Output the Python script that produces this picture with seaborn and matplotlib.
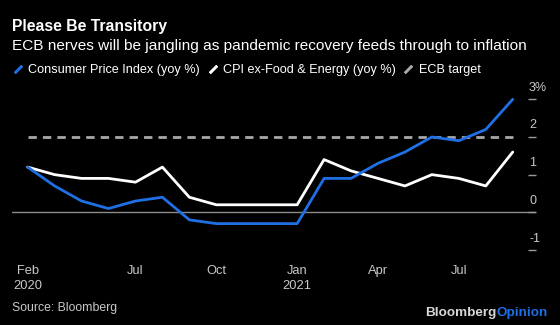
import numpy as np
import pandas as pd
import matplotlib
matplotlib.use("Agg")
import matplotlib.pyplot as plt
import matplotlib.transforms as mtransforms
from matplotlib.lines import Line2D
import seaborn as sns

months = ["2020-02", "2020-03", "2020-04", "2020-05", "2020-06", "2020-07", "2020-08",
          "2020-09", "2020-10", "2020-11", "2020-12", "2021-01", "2021-02", "2021-03",
          "2021-04", "2021-05", "2021-06", "2021-07", "2021-08"]
cpi = [1.2, 0.7, 0.3, 0.1, 0.3, 0.4, -0.2, -0.3, -0.3, -0.3, -0.3, 0.9, 0.9, 1.3,
       1.6, 2.0, 1.9, 2.2, 3.0]
core = [1.2, 1.0, 0.9, 0.9, 0.8, 1.2, 0.4, 0.2, 0.2, 0.2, 0.2, 1.4, 1.1, 0.9,
        0.7, 1.0, 0.9, 0.7, 1.6]
target = [2.0] * len(months)
series_names = ["Consumer Price Index (yoy %)", "CPI ex-Food & Energy (yoy %)", "ECB target"]
xtick_pos = [0, 4, 7, 10, 13, 16]
xtick_labels = ["Feb\n2020", "Jul", "Oct", "Jan\n2021", "Apr", "Jul"]
ytick_vals = [-1, 0, 1, 2, 3]
ytick_labels = ["-1", "0", "1", "2", "3%"]

BLUE = "#1f6fe5"
GREY_TXT = "#c8c8c8"

sns.set_theme(style="dark")
plt.rcParams["font.family"] = ["Liberation Sans", "DejaVu Sans"]

W, H = 560, 325
fig = plt.figure(figsize=(W / 100, H / 100), dpi=100, facecolor="black")

# axes placement in pixels
ax_l, ax_r, ax_t, ax_b = 12, 536, 92, 250
ax = fig.add_axes([ax_l / W, 1 - ax_b / H, (ax_r - ax_l) / W, (ax_b - ax_t) / H])
ax.set_facecolor("black")

idx = np.arange(len(months))
df = pd.DataFrame({
    "x": np.concatenate([idx, idx, idx]),
    "value": cpi + core + target,
    "series": np.repeat(series_names, len(months)),
})

sns.lineplot(data=df[df.series == series_names[2]], x="x", y="value", ax=ax,
             color="#a8a8a8", linewidth=2.0, linestyle=(0, (3.0, 2.2)), legend=False)
sns.lineplot(data=df[df.series == series_names[1]], x="x", y="value", ax=ax,
             color="white", linewidth=2.0, legend=False)
sns.lineplot(data=df[df.series == series_names[0]], x="x", y="value", ax=ax,
             color=BLUE, linewidth=2.0, legend=False)

ax.axhline(0, color="#8a8a8a", linewidth=1.0, zorder=0)

px_per_x = 27.0
ax.set_xlim(-15.7 / px_per_x, 18 + 23.3 / px_per_x)
y0_px, unit_px = 212.7, 37.8
ax.set_ylim((y0_px - ax_b) / unit_px, (y0_px - ax_t) / unit_px)

for s in ax.spines.values():
    s.set_visible(False)
ax.grid(False)
ax.set_xlabel("")
ax.set_ylabel("")

ax.set_xticks(xtick_pos)
ax.set_xticklabels(xtick_labels, color=GREY_TXT, fontsize=9.3, linespacing=1.25)
ax.tick_params(axis="x", direction="out", length=4, width=1, color="#9a9a9a", pad=7)
ax.yaxis.tick_right()
ax.set_yticks(ytick_vals)
ax.set_yticklabels(ytick_labels, color=GREY_TXT, fontsize=9.0)
ax.tick_params(axis="y", direction="in", length=6, width=1, color="#9a9a9a", pad=0,
               right=True, left=False)
off = mtransforms.ScaledTranslation(-7 / 100, 11.5 / 100, fig.dpi_scale_trans)
for lab in ax.get_yticklabels():
    lab.set_transform(lab.get_transform() + off)
    lab.set_horizontalalignment("left")
    lab.set_verticalalignment("center")

# titles
fig.text(12 / W, 1 - 27 / H, "Please Be Transitory", color="white", fontsize=11.3,
         fontweight="bold", va="center", ha="left")
fig.text(12 / W, 1 - 46 / H, "ECB nerves will be jangling as pandemic recovery feeds through to inflation",
         color="white", fontsize=11.1, va="center", ha="left")

# legend
hkw = dict(linestyle="none", marker=(2, 2, -45), markersize=7.5, markeredgewidth=1.8)
handles = [
    Line2D([], [], color=BLUE, **hkw),
    Line2D([], [], color="white", **hkw),
    Line2D([], [], color="#a8a8a8", **hkw),
]
leg = fig.legend(handles, series_names, loc="center left", bbox_to_anchor=(14.5 / W, 1 - 70 / H),
                 ncol=3, frameon=False, fontsize=9.1, labelcolor="white",
                 handlelength=0.6, handletextpad=0.5, columnspacing=0.7, borderaxespad=0,
                 borderpad=0)

# footer
fig.text(12 / W, 1 - 308 / H, "Source: Bloomberg", color=GREY_TXT, fontsize=8.8,
         va="center", ha="left")
t1 = fig.text(548 / W, 1 - 313 / H, "Opinion", color=BLUE, fontsize=9.7,
              fontweight="bold", va="center", ha="right")
fig.canvas.draw()
bb = t1.get_window_extent()
fig.text(bb.x0 / W, 1 - 313 / H, "Bloomberg", color="#d8d8d8", fontsize=9.7,
         fontweight="bold", va="center", ha="right")

fig.savefig("out.png", dpi=100, facecolor="black")
